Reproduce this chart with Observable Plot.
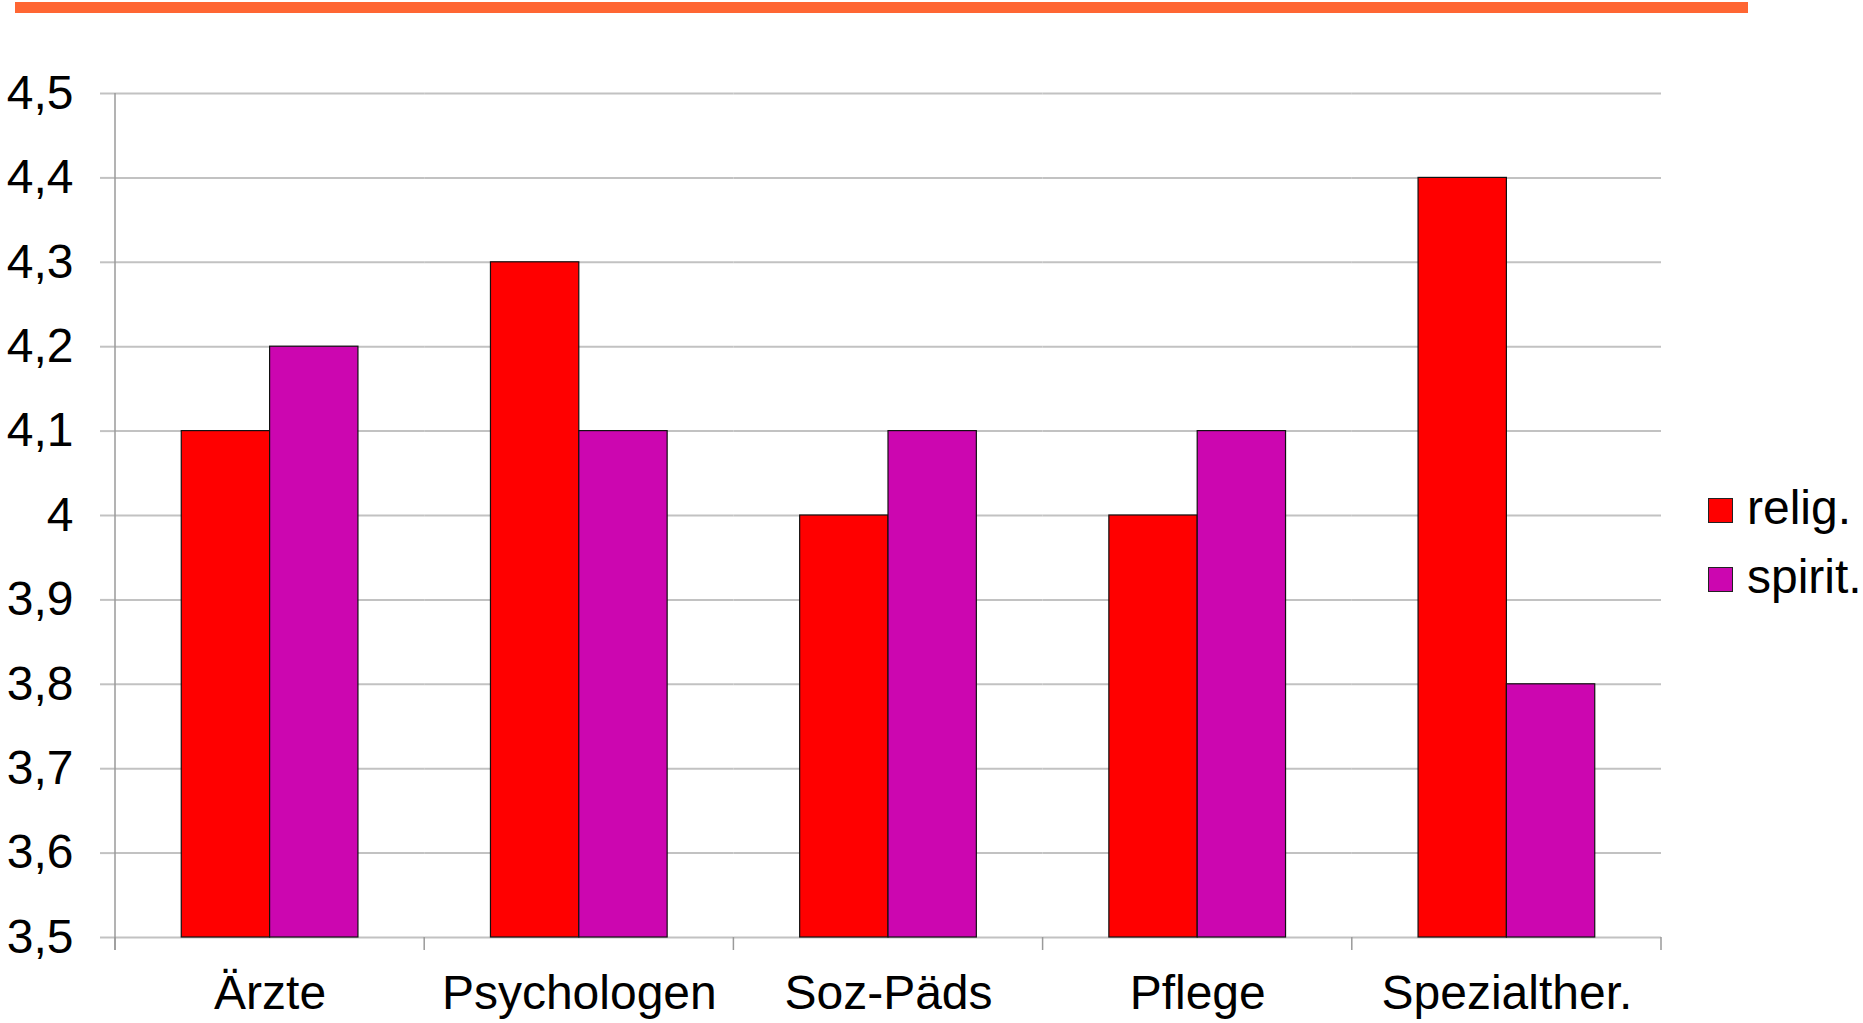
<!DOCTYPE html>
<html><head><meta charset="utf-8">
<script src="https://cdn.jsdelivr.net/npm/d3@7"></script>
<script src="https://cdn.jsdelivr.net/npm/@observablehq/plot@0.6"></script>
<style>
html,body{margin:0;padding:0;background:#fff;}
#wrap{position:relative;width:1863px;height:1023px;font-family:"Liberation Sans",Arial,sans-serif;overflow:hidden;}
#topbar{position:absolute;left:15px;top:2px;width:1733px;height:11px;background:#FF6633;}
#chart{position:absolute;left:0;top:0;}
#legend{position:absolute;left:1708px;top:476px;font-size:48px;color:#000;}
.row{display:flex;align-items:center;height:69px;}
.sw{width:23px;height:23px;border:1px solid #222;margin-right:14px;flex:none;}
.lab{position:relative;top:-3px;white-space:nowrap;}
</style></head><body>
<div id="wrap"><div id="chart"></div><div id="topbar"></div><div id="legend"></div></div>
<script>
const categories = ["Ärzte", "Psychologen", "Soz-Päds", "Pflege", "Spezialther."];
const seriesNames = ["relig.", "spirit."];
const religValues = [4.1, 4.3, 4.0, 4.0, 4.4];
const spiritValues = [4.2, 4.1, 4.1, 4.1, 3.8];
const seriesColors = ["#FF0000", "#CC06B0"];
const yTicks = [3.5, 3.6, 3.7, 3.8, 3.9, 4.0, 4.1, 4.2, 4.3, 4.4, 4.5];
const yDomain = [3.5, 4.5];

const data = categories.flatMap((c, i) => [
  {category: c, series: seriesNames[0], value: religValues[i]},
  {category: c, series: seriesNames[1], value: spiritValues[i]}
]);
const fmt = d => String(+(+d).toFixed(1)).replace(".", ",");

const plot = Plot.plot({
  width: 1863, height: 1023,
  marginLeft: 115, marginRight: 202, marginTop: 93, marginBottom: 86,
  style: {fontFamily: "'Liberation Sans', Arial, sans-serif", fontSize: "48px", background: "transparent", color: "#000", overflow: "visible"},
  fx: {domain: categories, padding: 0, round: false, label: null, axis: null},
  x: {domain: seriesNames, paddingInner: 0, paddingOuter: 0.75, round: false, axis: null},
  y: {domain: yDomain, axis: null},
  color: {domain: seriesNames, range: seriesColors},
  marks: [
    Plot.gridY(yTicks, {stroke: "#c2c2c2", strokeOpacity: 1, strokeWidth: 2}),
    Plot.barY(data, {fx: "category", x: "series", y1: yDomain[0], y2: "value", fill: "series", stroke: "#111", strokeWidth: 1.2}),
    Plot.axisY({ticks: yTicks, tickFormat: fmt, tickSize: 15, tickPadding: 27, fontSize: 48, stroke: "#c2c2c2", strokeWidth: 2, strokeOpacity: 1, label: null}),
    Plot.axisFx({anchor: "bottom", tickSize: 0, tickPadding: 37, fontSize: 48, label: null})
  ]
});
document.getElementById("chart").appendChild(plot);

// category boundary ticks and vertical axis line, positioned with Plot's own scales
const fxs = plot.scale("fx"), ys = plot.scale("y");
const yBase = ys.apply(yDomain[0]), yTop = ys.apply(yDomain[1]);
const bounds = categories.map(c => fxs.apply(c));
bounds.push(fxs.apply(categories[categories.length - 1]) + fxs.bandwidth);
const g = d3.select(plot).append("g").attr("stroke", "#9a9a9a").attr("stroke-width", 1.5);
g.append("line").attr("x1", bounds[0]).attr("x2", bounds[0]).attr("y1", yTop).attr("y2", yBase + 13);
bounds.forEach(b => g.append("line").attr("x1", b).attr("x2", b).attr("y1", yBase).attr("y2", yBase + 13));

// legend
const color = plot.scale("color");
const leg = d3.select("#legend");
seriesNames.forEach(s => {
  const r = leg.append("div").attr("class", "row");
  r.append("div").attr("class", "sw").style("background", color.apply(s));
  r.append("div").attr("class", "lab").text(s);
});
</script>
</body></html>
